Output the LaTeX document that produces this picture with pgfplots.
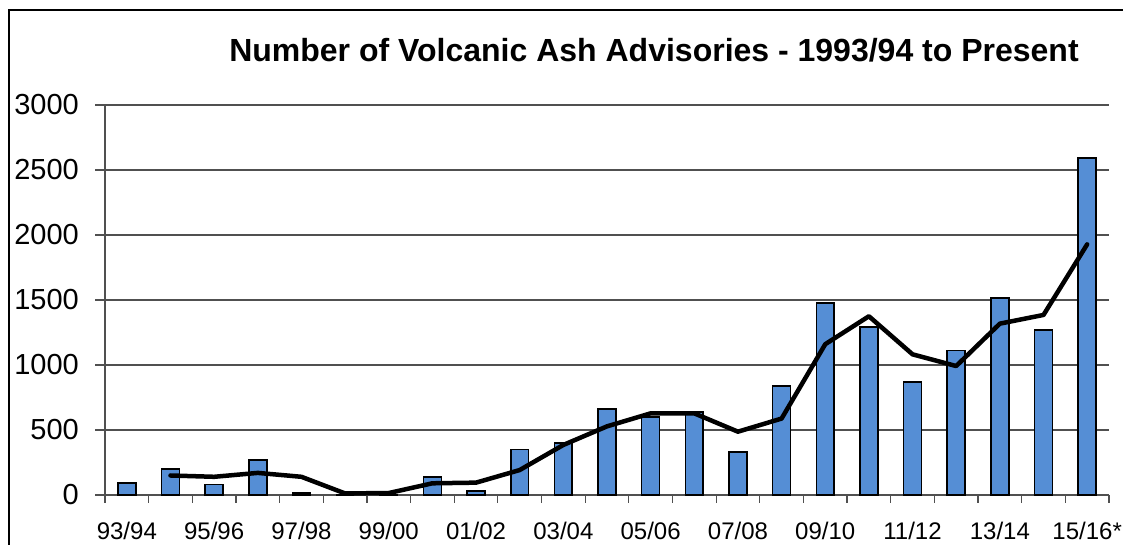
\documentclass[border=0pt]{standalone}
\usepackage{pgfplots}
\pgfplotsset{compat=1.18}
\usepackage{fontspec}
\setmainfont{Liberation Sans}
\definecolor{barblue}{HTML}{558ED5}
\definecolor{gridgray}{HTML}{505050}
\begin{document}
\begin{tikzpicture}[x=1pt,y=1pt]
\path[use as bounding box] (0,0) rectangle (1123,545);
\draw[line width=1.5pt,black] (9,0) -- (9,535) -- (1123,535);
\node[font=\fontsize{32}{36}\selectfont\bfseries] at (654,495) {Number of Volcanic Ash Advisories - 1993/94 to Present};
\begin{axis}[
  at={(105pt,50pt)}, anchor=south west,
  scale only axis, width=1004pt, height=390pt,
  xmin=-0.5, xmax=22.5, ymin=0, ymax=3000,
  axis x line*=bottom, axis y line*=left,
  axis line style={line width=1.2pt, gridgray},
  xtick={0,2,...,22},
  xticklabels={93/94,95/96,97/98,99/00,01/02,03/04,05/06,07/08,09/10,11/12,13/14,15/16*},
  minor xtick={-0.5,0.5,...,22.5},
  major x tick style={draw=none},
  minor x tick style={line width=1.2pt, gridgray},
  minor tick length=8pt,
  ytick={0,500,...,3000},
  major tick length=10pt,
  y tick style={line width=1.2pt, gridgray},
  tick align=outside,
  ymajorgrids,
  major grid style={line width=1.2pt, gridgray},
  xticklabel style={font=\fontsize{24}{27}\selectfont, anchor=north, inner sep=0pt, yshift=-17pt},
  yticklabel style={font=\fontsize{29}{33}\selectfont, anchor=east, inner sep=0pt, xshift=-16pt},
  /pgf/number format/assume math mode=true,
  /pgf/number format/1000 sep={},
  clip=false,
]
\addplot[ybar, bar width=0.41, fill=barblue, draw=black, line width=1.6pt, bar shift=0pt]
coordinates {(0,90) (1,200) (2,80) (3,270) (4,15) (5,0) (6,5) (7,140) (8,30) (9,350) (10,400) (11,660) (12,600) (13,640) (14,330) (15,840) (16,1475) (17,1290) (18,870) (19,1110) (20,1515) (21,1270) (22,2590)};
\addplot[black, line width=4.5pt, line join=round, line cap=round, mark=none]
coordinates {(1,150) (2,140) (3,170) (4,140) (5,12) (6,15) (7,90) (8,95) (9,192) (10,385) (11,528) (12,628) (13,628) (14,487) (15,588) (16,1160) (17,1375) (18,1082) (19,992) (20,1318) (21,1385) (22,1928)};
\end{axis}
\end{tikzpicture}
\end{document}
